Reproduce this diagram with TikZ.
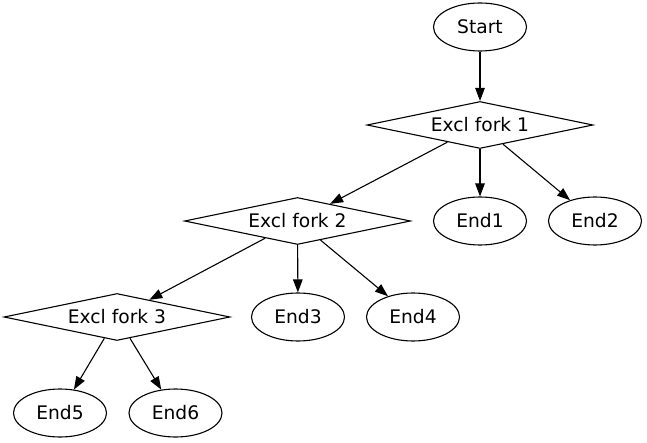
\documentclass[tikz,border=0pt]{standalone}
\usepackage{fontspec}
\setmainfont{DejaVu Sans}
\usetikzlibrary{shapes.geometric,arrows.meta}
\begin{document}
\begin{tikzpicture}[x=1pt,y=-1pt,
  every node/.style={font=\fontsize{18.67}{22}\selectfont, inner sep=0pt, line width=1.1pt},
  endnode/.style={draw, ellipse, minimum width=93pt, minimum height=48pt},
  forknode/.style={draw, diamond, shape aspect=4.8, minimum width=226pt, minimum height=47pt},
  edge/.style={draw, line width=1.1pt, -{Triangle[length=13pt,width=9.5pt]}}
]
\useasboundingbox (0,0) rectangle (647,443);
\node[endnode] (start) at (480,27) {Start};
\node[forknode] (f1) at (480,125) {Excl fork 1};
\node[forknode] (f2) at (297.5,221) {Excl fork 2};
\node[endnode] (e1) at (480,221) {End1};
\node[endnode] (e2) at (595,221) {End2};
\node[forknode] (f3) at (117,317) {Excl fork 3};
\node[endnode] (e3) at (298,317) {End3};
\node[endnode] (e4) at (413,317) {End4};
\node[endnode] (e5) at (60,413) {End5};
\node[endnode] (e6) at (175.5,413) {End6};
\path[edge] (start) -- (f1);
\path[edge] (f1) -- (f2);
\path[edge] (f1) -- (e1);
\path[edge] (f1) -- (e2);
\path[edge] (f2) -- (f3);
\path[edge] (f2) -- (e3);
\path[edge] (f2) -- (e4);
\path[edge] (f3) -- (e5);
\path[edge] (f3) -- (e6);
\end{tikzpicture}
\end{document}
